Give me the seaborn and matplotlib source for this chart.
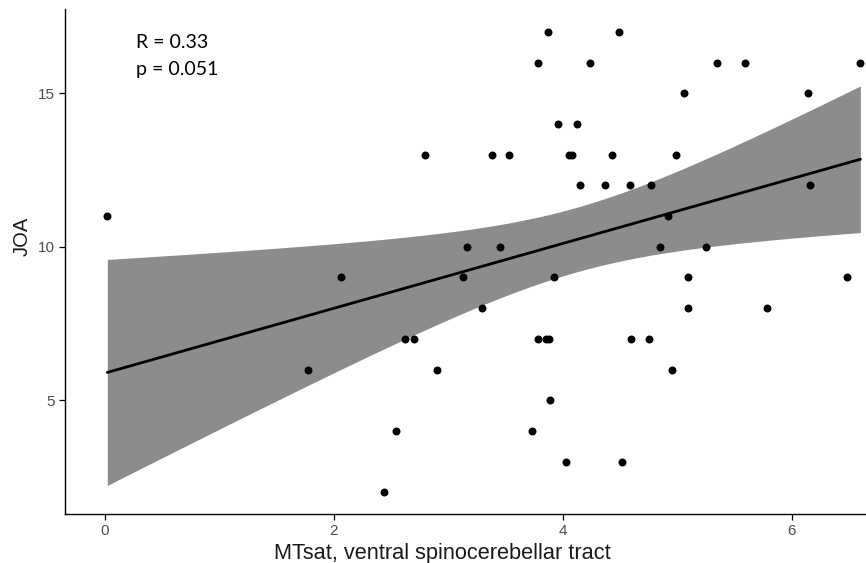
import numpy as np
import pandas as pd
import matplotlib
matplotlib.use("Agg")
import matplotlib.pyplot as plt
import seaborn as sns

# ---- data ----
mtsat = [0.02, 1.77, 2.06, 2.44, 2.54, 2.62, 2.70, 2.80, 2.90, 3.13,
         3.16, 3.29, 3.38, 3.45, 3.53, 3.73, 3.78, 3.78, 3.85, 3.88,
         3.87, 3.89, 3.92, 3.96, 4.03, 4.05, 4.08, 4.12, 4.15, 4.24,
         4.37, 4.43, 4.49, 4.52, 4.59, 4.60, 4.75, 4.77, 4.85, 4.92,
         4.95, 4.99, 5.06, 5.09, 5.09, 5.25, 5.35, 5.59, 5.78, 6.14,
         6.16, 6.48, 6.60]
joa = [11, 6, 9, 2, 4, 7, 7, 13, 6, 9,
       10, 8, 13, 10, 13, 4, 16, 7, 7, 7,
       17, 5, 9, 14, 3, 13, 13, 14, 12, 16,
       12, 13, 17, 3, 12, 7, 7, 12, 10, 11,
       6, 13, 15, 9, 8, 10, 16, 16, 8, 15,
       12, 9, 16]
x_ticks = [0, 2, 4, 6]
y_ticks = [5, 10, 15]
x_label = "MTsat, ventral spinocerebellar tract"
y_label = "JOA"
annotation = ["R = 0.33", "p = 0.051"]

sns.set_theme(style="ticks")
plt.rcParams['font.family'] = ['Liberation Sans', 'DejaVu Sans']

fig = plt.figure(figsize=(8.66, 5.63), dpi=100)
ax = fig.add_axes([64.5 / 866, 49 / 563, 1 - 64.5 / 866, 505 / 563])

df = pd.DataFrame({"x": mtsat, "y": joa})

# analytic 95% confidence band of the linear fit (as in ggplot geom_smooth)
X = df["x"].to_numpy(float)
Y = df["y"].to_numpy(float)
n = len(X)
b1, b0 = np.polyfit(X, Y, 1)
grid = np.linspace(X.min(), X.max(), 300)
fit = b0 + b1 * grid
resid = Y - (b0 + b1 * X)
s = np.sqrt(resid @ resid / (n - 2))
se = s * np.sqrt(1 / n + (grid - X.mean()) ** 2 / ((X - X.mean()) ** 2).sum())
tq = 2.0076  # t quantile, 0.975, df=51
ax.fill_between(grid, fit - tq * se, fit + tq * se, color="#8c8c8c", lw=0, zorder=1)

sns.regplot(data=df, x="x", y="y", ci=None, ax=ax,
            scatter_kws=dict(s=33, color="black", linewidths=0, alpha=1, zorder=3),
            line_kws=dict(color="black", lw=2.0, zorder=2))

ax.set_xlim(-0.354, 6.649)
ax.set_ylim(1.296, 17.746)
ax.set_xticks(x_ticks)
ax.set_yticks(y_ticks)
ax.set_xlabel(x_label, fontsize=15.7, color="#1a1a1a")
ax.set_ylabel(y_label, fontsize=14.5, color="#1a1a1a")
ax.xaxis.label.set_va("center")
ax.yaxis.label.set_va("center")
ax.xaxis.set_label_coords(0.472, -39 / 505)
ax.yaxis.set_label_coords(-42.5 / 801.5, 0.55)
ax.tick_params(axis="both", length=4, width=0.9, color="black",
               labelcolor="#4d4d4d", labelsize=11, pad=3)
for side in ["top", "right"]:
    ax.spines[side].set_visible(False)
for side in ["left", "bottom"]:
    ax.spines[side].set_color("black")
    ax.spines[side].set_linewidth(1.0)

ax.text(136 / 866, 1 - 43 / 563, annotation[0], transform=fig.transFigure,
        fontsize=14, family=["Lato", "DejaVu Sans"], va="center", ha="left", color="black")
ax.text(136 / 866, 1 - 70 / 563, annotation[1], transform=fig.transFigure,
        fontsize=14, family=["Lato", "DejaVu Sans"], va="center", ha="left", color="black")

fig.savefig("out.png", dpi=100)
